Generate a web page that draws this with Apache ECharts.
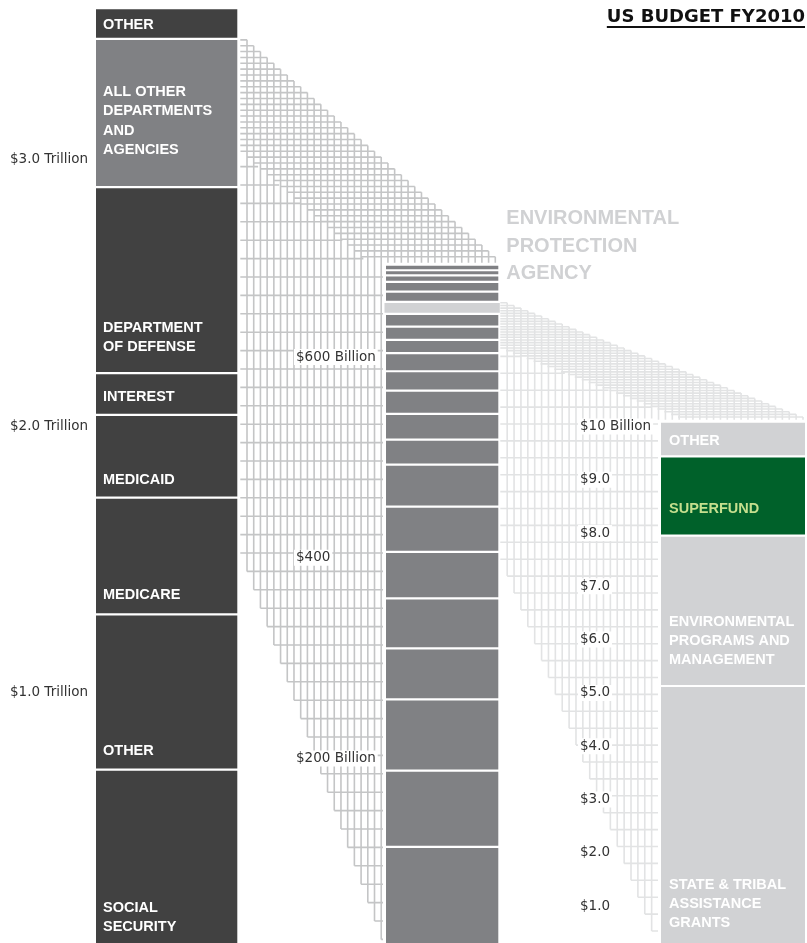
<!DOCTYPE html>
<html>
<head>
<meta charset="utf-8">
<script src="https://cdn.jsdelivr.net/npm/echarts@6.0.0/dist/echarts.min.js"></script>
<style>
html,body{margin:0;padding:0;background:#ffffff;}
#chart{width:807px;height:943px;}
</style>
</head>
<body>
<div id="chart"></div>
<script>
// ================= DATA =================
// Left bar: US budget FY2010 (trillions), bottom to top
const budgetCategories = ['SOCIAL\nSECURITY', 'OTHER', 'MEDICARE', 'MEDICAID', 'INTEREST',
  'DEPARTMENT\nOF DEFENSE', 'ALL OTHER\nDEPARTMENTS\nAND\nAGENCIES', 'OTHER'];
const budgetValues = [0.716, 0.583, 0.438, 0.310, 0.157, 0.698, 0.556, 0.107];

// Middle bar: departments and agencies (billions), bottom to top
const agencyValues = [113.2, 75.9, 71.0, 50.7, 49.8, 46.5, 45.0, 41.8, 24.9, 25.6, 23.2,
  19.3, 18.1, 13.2, 13.2, 12.6, 12.0, 10.2, 9.7, 6.6, 5.0, 3.5];
const agencyHighlightIndex = 16;            // Environmental Protection Agency
const agencyHighlightName = 'ENVIRONMENTAL\nPROTECTION\nAGENCY';

// Right bar: EPA (billions), bottom to top
const epaCategories = ['STATE & TRIBAL\nASSISTANCE\nGRANTS', 'ENVIRONMENTAL\nPROGRAMS AND\nMANAGEMENT', 'SUPERFUND', 'OTHER'];
const epaValues = [5.15, 2.82, 1.49, 0.61];

// Tick labels
const leftTicks = [1, 2, 3];
const leftTickLabels = ['$1.0 Trillion', '$2.0 Trillion', '$3.0 Trillion'];
const midTicks = [200, 400, 600];
const midTickLabels = ['$200 Billion', '$400', '$600 Billion'];
const rightTicks = [1, 2, 3, 4, 5, 6, 7, 8, 9, 10];
const rightTickLabels = ['$1.0', '$2.0', '$3.0', '$4.0', '$5.0', '$6.0', '$7.0', '$8.0', '$9.0', '$10 Billion'];

const titleText = 'US BUDGET FY2010';

// ================= LAYOUT / STYLE =================
const CW = 807, CH = 943;
const LEFT_BAR_X = [96, 237.3];
const MID_BAR_X = [386, 498.3];
const RIGHT_BAR_X = [661, 805];
const GAP = 2.2;
const LABEL_FONT = 'bold 14.5px "Liberation Sans", Arial, sans-serif';
const TICK_FONT = '13.5px "DejaVu Sans", sans-serif';

// axis ranges: the zero line of every bar sits just below the window
const LEFT_RANGE = [0.0615, 3.6];
const MID_RANGE = [16.33, 955.6];
const RIGHT_RANGE = [0.3077, 18.0];

const leftColors = ['#414141', '#414141', '#414141', '#414141', '#414141', '#414141', '#808184', '#414141'];
const leftLabelPads = [32, 17.5, 18, 16.5, 17, 25, 36, 13];
const leftLabelColors = leftColors.map(() => '#ffffff');
const midColors = agencyValues.map((v, i) => i === agencyHighlightIndex ? '#d1d2d4' : '#808184');
const rightColors = ['#d1d2d4', '#d1d2d4', '#00612a', '#d1d2d4'];
const rightLabelPads = [36, 25, 26, 14];
const rightLabelColors = ['#ffffff', '#ffffff', '#c5df8e', '#ffffff'];

function cumulate(vals) {
  let s = 0;
  return vals.map((v, i) => { const r = [s, s + v, i]; s += v; return r; });
}
function total(vals) { return vals.reduce((a, b) => a + b, 0); }

function barSeries(opts) {
  const n = opts.values.length;
  return {
    type: 'custom', xAxisIndex: 0, yAxisIndex: opts.axis, z: 5, silent: true, clip: false,
    data: cumulate(opts.values),
    renderItem: function (params, api) {
      const lo = api.value(0), hi = api.value(1), i = api.value(2);
      const hl = opts.highlight === i;
      const x0 = opts.x[0] - (hl ? opts.widen : 0), x1 = opts.x[1] + (hl ? opts.widen : 0);
      const a = api.coord([x0, lo]), b = api.coord([x1, hi]);
      const top = b[1] + (i === n - 1 ? 0 : GAP);
      const children = [{
        type: 'rect', shape: { x: a[0], y: top, width: b[0] - a[0], height: a[1] - top },
        style: { fill: opts.colors[i] }
      }];
      if (opts.labels && opts.labels[i]) {
        children.push({
          type: 'text', x: a[0] + opts.labelDx, y: a[1] - opts.pads[i] + opts.lh / 2,
          style: { text: opts.labels[i], fill: opts.labelColors[i], font: LABEL_FONT,
            lineHeight: opts.lh, align: 'left', verticalAlign: 'bottom' }
        });
      }
      if (hl && opts.hlText) {
        children.push({
          type: 'text', x: b[0] + 6.5, y: b[1] - 27 + 14,
          style: { text: opts.hlText, fill: '#d0d1d3', font: 'bold 20px "Liberation Sans", Arial, sans-serif',
            lineHeight: 27.7, align: 'left', verticalAlign: 'bottom' }
        });
      }
      return { type: 'group', children: children };
    }
  };
}

function tickSeries(axis, ticks, labels, xAnchor, align) {
  return {
    type: 'custom', xAxisIndex: 0, yAxisIndex: axis, z: 6, silent: true, clip: false,
    data: ticks.map((t, i) => [xAnchor, t, i]),
    renderItem: function (params, api) {
      const p = api.coord([api.value(0), api.value(1)]);
      return {
        type: 'text', x: p[0], y: p[1],
        style: { text: labels[api.value(2)], font: TICK_FONT, fill: '#333333', align: align,
          verticalAlign: 'middle', backgroundColor: '#ffffff', padding: [1, 2, 1, 2] }
      };
    }
  };
}

const chart = echarts.init(document.getElementById('chart'), null, { width: CW, height: CH, renderer: 'canvas' });

// measure title width for the underline
const mctx = document.createElement('canvas').getContext('2d');
mctx.font = 'bold 18px "DejaVu Sans"';
const titleW = mctx.measureText(titleText).width;

const option = {
  animation: false,
  backgroundColor: '#ffffff',
  grid: { left: 0, right: 0, top: 0, bottom: 0 },
  xAxis: { type: 'value', min: 0, max: CW, show: false },
  yAxis: [
    { type: 'value', min: LEFT_RANGE[0], max: LEFT_RANGE[1], show: false },
    { type: 'value', min: MID_RANGE[0], max: MID_RANGE[1], show: false },
    { type: 'value', min: RIGHT_RANGE[0], max: RIGHT_RANGE[1], show: false }
  ],
  graphic: [
    { type: 'text', right: 2, top: 8, style: { text: titleText, font: 'bold 18px "DejaVu Sans"', fill: '#111111' } },
    { type: 'rect', shape: { x: CW - 2 - titleW, y: 26, width: titleW, height: 2 }, style: { fill: '#111111' } }
  ],
  series: [
    barSeries({ axis: 0, values: budgetValues, x: LEFT_BAR_X, colors: leftColors, labels: budgetCategories,
      pads: leftLabelPads, labelColors: leftLabelColors, lh: 19.3, labelDx: 7 }),
    barSeries({ axis: 1, values: agencyValues, x: MID_BAR_X, colors: midColors, highlight: agencyHighlightIndex,
      widen: 1.5, hlText: agencyHighlightName }),
    barSeries({ axis: 2, values: epaValues, x: RIGHT_BAR_X, colors: rightColors, labels: epaCategories,
      pads: rightLabelPads, labelColors: rightLabelColors, lh: 19, labelDx: 8 }),
    tickSeries(0, leftTicks, leftTickLabels, LEFT_BAR_X[0] - 6, 'right'),
    tickSeries(1, midTicks, midTickLabels, 294, 'left'),
    tickSeries(2, rightTicks, rightTickLabels, 578, 'left')
  ]
};
chart.setOption(option);

// ---------- connector meshes, positioned through the axes ----------
const pxX = v => chart.convertToPixel({ xAxisIndex: 0 }, v);
const pxY = (axis, v) => chart.convertToPixel({ yAxisIndex: axis }, v);

function buildMesh(p) {
  const N = Math.round((p.xr - p.xs) / p.dx);
  const dx = (p.xr - p.xs) / N, dyR = (p.yt - p.ys) / N;
  const X = j => p.xs + j * dx;
  let d = '';
  const seg = (x1, y1, x2, y2) => { d += 'M' + x1.toFixed(2) + ' ' + y1.toFixed(2) + 'L' + x2.toFixed(2) + ' ' + y2.toFixed(2); };
  const jl = Math.floor((p.xt - 1 - p.xs) / dx);
  const bottomOf = j => p.yEnd - (jl - j) * p.dyT;
  for (let i = 0; i < N; i++) {
    const y = p.ys + i * dyR;
    const xe = X(i + 1);
    const xb = Math.max(p.xs, xe - p.W);
    seg(xb, y, xe, y);
  }
  for (let j = 1; j <= N; j++) {
    const yTop = p.ys + (j - 1) * dyR;
    const x = X(j);
    let yb;
    if (j <= jl) { yb = bottomOf(j); seg(x, yb, p.xt, yb); }
    else yb = p.yt;
    seg(x, yTop, x, yb);
  }
  const rowEnd = y => X((y - p.ys) / dyR + 1);
  for (let m = 1; m < 200; m++) {
    const y = bottomOf(1) - m * p.dyT;
    if (y <= p.ys) break;
    const xe = y >= p.yt ? p.xt : rowEnd(y) - p.W;
    if (xe > p.xs) seg(p.xs, y, xe, y);
  }
  return d;
}

const leftCum = cumulate(budgetValues);
const midCum = cumulate(agencyValues);
const sourceTop = leftCum[6][1];                       // top of "All other departments and agencies"
const epaTop = midCum[agencyHighlightIndex][1];

const leftMesh = buildMesh({
  xs: pxX(LEFT_BAR_X[1]) + 3, ys: pxY(0, sourceTop) + 2,
  xt: pxX(MID_BAR_X[0]) - 3, xr: pxX(MID_BAR_X[1]) - 3,
  yt: pxY(1, total(agencyValues)) - 3, yEnd: pxY(1, 0) - 20,
  dx: 6.7, dyT: 18.4, W: 134
});
const rightMesh = buildMesh({
  xs: pxX(MID_BAR_X[1]) + 2, ys: pxY(1, epaTop) + 2,
  xt: pxX(RIGHT_BAR_X[0]) - 3, xr: pxX(RIGHT_BAR_X[1]) - 2,
  yt: pxY(2, total(epaValues)) - 3, yEnd: pxY(2, 0) - 28.4,
  dx: 6.88, dyT: 16.9, W: 125
});

function meshSeries(pathData, color) {
  return {
    type: 'custom', coordinateSystem: 'none', z: 1, silent: true, data: [0],
    renderItem: function () {
      return { type: 'path', shape: { pathData: pathData },
        style: { fill: null, stroke: color, lineWidth: 1.6 } };
    }
  };
}
option.series.push(meshSeries(leftMesh, '#c4c5c6'));
option.series.push(meshSeries(rightMesh, '#e2e3e4'));
chart.setOption(option, true);
</script>
</body>
</html>
